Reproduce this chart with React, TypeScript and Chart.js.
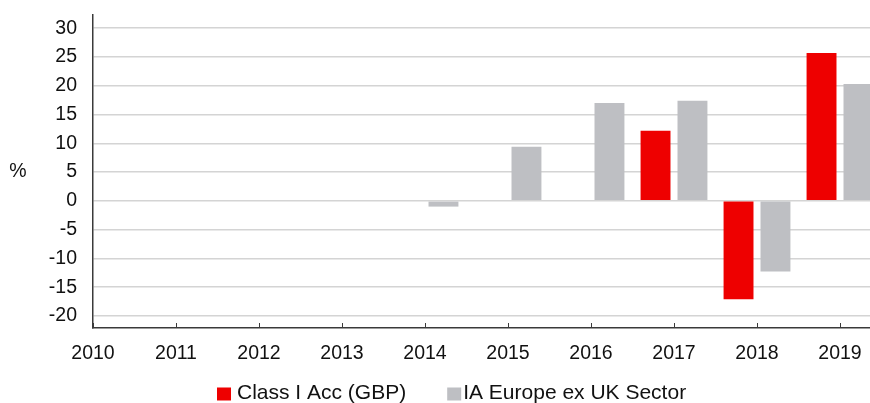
import React, { useEffect, useRef } from 'react';
import { Chart, registerables } from 'chart.js';

Chart.register(...registerables);

// ---- data ----
const years = [2010, 2011, 2012, 2013, 2014, 2015, 2016, 2017, 2018, 2019];
const classIAcc: (number | null)[] = [null, null, null, null, null, null, null, 12.2, -17.1, 25.7];
const sectorReturns: (number | null)[] = [null, null, null, null, -1.0, 9.4, 17.0, 17.4, -12.3, 20.3];
const yTickValues = [-20, -15, -10, -5, 0, 5, 10, 15, 20, 25, 30];
const seriesLabels = ['Class I Acc (GBP)', 'IA Europe ex UK Sector'];
const seriesColors = ['#EE0000', '#BEBFC3'];
const yAxisTitle = '%';

const FONT = '"Liberation Sans", Arial, Helvetica, sans-serif';
const TEXT_COLOR = '#111111';
const AXIS_COLOR = '#3a3a3a';
const GRID_COLOR = '#d4d4d4';

const toPoints = (vals: (number | null)[]) =>
  years
    .map((x, i) => ({ x, y: vals[i] }))
    .filter((p) => p.y !== null) as { x: number; y: number }[];

const innerTicksPlugin = {
  id: 'innerTicks',
  afterDatasetsDraw(chart: any) {
    const { ctx, chartArea, scales } = chart;
    const xs = scales.x;
    ctx.save();
    ctx.strokeStyle = AXIS_COLOR;
    ctx.lineWidth = 1;
    years.forEach((y) => {
      const px = Math.round(xs.getPixelForValue(y)) + 0.5;
      ctx.beginPath();
      ctx.moveTo(px, chartArea.bottom - 5);
      ctx.lineTo(px, chartArea.bottom);
      ctx.stroke();
    });
    ctx.restore();
  },
};

const yTitlePlugin = {
  id: 'yTitle',
  afterDraw(chart: any) {
    const { ctx, chartArea } = chart;
    ctx.save();
    ctx.font = `19.5px ${FONT}`;
    ctx.fillStyle = TEXT_COLOR;
    ctx.textAlign = 'center';
    ctx.textBaseline = 'middle';
    ctx.fillText(yAxisTitle, 18, (chartArea.top + chartArea.bottom) / 2);
    ctx.restore();
  },
};

const legendPlugin = {
  id: 'customLegend',
  afterDraw(chart: any) {
    const { ctx } = chart;
    const startX = 217;
    const boxW = 14;
    const boxH = 13;
    const centerY = 393;
    const textGaps = [6, 2];
    const itemGap = 41;
    ctx.save();
    ctx.font = `21px ${FONT}`;
    ctx.textBaseline = 'middle';
    ctx.textAlign = 'left';
    let x = startX;
    chart.data.datasets.forEach((ds: any, i: number) => {
      ctx.fillStyle = ds.backgroundColor;
      ctx.fillRect(x, centerY - boxH / 2 + 1, boxW, boxH);
      const tx = x + boxW + textGaps[i];
      ctx.fillStyle = TEXT_COLOR;
      ctx.fillText(ds.label, tx, centerY);
      x = tx + ctx.measureText(ds.label).width + itemGap;
    });
    ctx.restore();
  },
};

export default function App() {
  const canvasRef = useRef<HTMLCanvasElement | null>(null);

  useEffect(() => {
    document.body.style.margin = '0';
    const canvas = canvasRef.current;
    if (!canvas) return;
    const chart = new Chart(canvas, {
      type: 'bar',
      data: {
        datasets: [
          {
            label: seriesLabels[0],
            data: toPoints(classIAcc),
            backgroundColor: seriesColors[0],
            borderWidth: 0,
            categoryPercentage: 0.89,
            barPercentage: 0.81,
          },
          {
            label: seriesLabels[1],
            data: toPoints(sectorReturns),
            backgroundColor: seriesColors[1],
            borderWidth: 0,
            categoryPercentage: 0.89,
            barPercentage: 0.81,
          },
        ],
      },
      options: {
        animation: false,
        responsive: false,
        maintainAspectRatio: false,
        layout: { padding: { top: 15, left: 0, right: 0, bottom: 0 } },
        plugins: {
          legend: { display: false },
          tooltip: { enabled: false },
        },
        scales: {
          x: {
            type: 'linear',
            offset: false,
            min: 2010,
            max: 2010 + 777 / 83,
            afterFit: (s: any) => {
              s.height = 75;
              s.paddingLeft = 0;
              s.paddingRight = 0;
            },
            afterBuildTicks: (s: any) => {
              s.ticks = years.map((v) => ({ value: v }));
            },
            grid: { display: false, offset: false, drawOnChartArea: false, drawTicks: false },
            border: { display: true, color: AXIS_COLOR, width: 1.5 },
            ticks: {
              padding: 14,
              autoSkip: false,
              maxRotation: 0,
              color: TEXT_COLOR,
              font: { family: FONT, size: 19.5 },
              callback: (v: any) => String(v),
            },
          },
          y: {
            min: -22.1,
            max: 32.3,
            afterFit: (s: any) => {
              s.width = 93;
              s.paddingTop = 0;
              s.paddingBottom = 0;
            },
            afterBuildTicks: (s: any) => {
              s.ticks = yTickValues.map((v) => ({ value: v }));
            },
            grid: { color: GRID_COLOR, lineWidth: 1.5, drawTicks: false },
            border: { display: true, color: AXIS_COLOR, width: 1.5 },
            ticks: {
              padding: 16,
              color: TEXT_COLOR,
              font: { family: FONT, size: 19.5 },
              callback: (v: any) => String(v),
            },
          },
        },
      } as any,
      plugins: [innerTicksPlugin, yTitlePlugin, legendPlugin],
    });
    return () => chart.destroy();
  }, []);

  return (
    <div style={{ width: 870, height: 403, background: '#ffffff' }}>
      <canvas ref={canvasRef} width={870} height={403} style={{ display: 'block' }} />
    </div>
  );
}
